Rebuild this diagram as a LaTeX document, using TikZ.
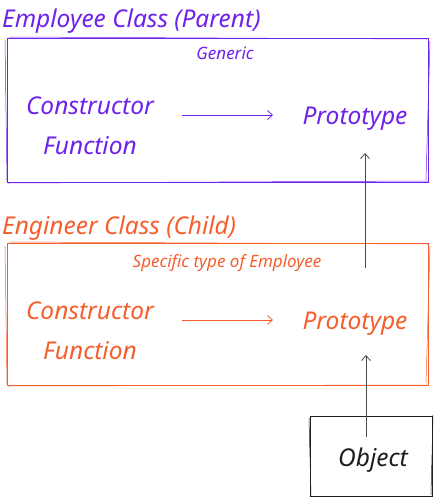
\documentclass[tikz,border=0pt]{standalone}
\usepackage{fontspec}
\setmainfont{Noto Sans}
\usetikzlibrary{arrows.meta}
\definecolor{violetc}{HTML}{6E22EA}
\definecolor{orangec}{HTML}{F55E2D}
\definecolor{inkc}{HTML}{1E1E1E}
\tikzset{
  hand/.style={font=\itshape, inner sep=0pt},
  title/.style={hand, anchor=west, font=\itshape\fontsize{24.5}{26}\selectfont},
  big/.style={hand, font=\itshape\fontsize{24.5}{40}\selectfont, align=center},
  small/.style={hand, font=\itshape\fontsize{17}{19}\selectfont},
  frame/.style={draw, line width=1pt, inner sep=0pt},
  conn/.style={line width=0.8pt, -{Straight Barb[length=5pt,width=9pt]}},
}
\begin{document}
\begin{tikzpicture}[x=1pt,y=-1pt]
\useasboundingbox (0,0) rectangle (434,499);
% parent
\node[title, text=violetc] (t1) at (2,21) {Employee Class (Parent)};
\node[frame, draw=violetc, minimum width=421pt, minimum height=144pt] (box1) at (217.5,110) {};
\draw[violetc, line width=0.5pt] (5,40) -- (7,181) (9,37) -- (427,39) (430,41) -- (426,180) (8,183) -- (428,181);
\node[small, text=violetc] (g1) at (225,53) {Generic};
\node[big, text=violetc] (c1) at (90,126) {Constructor\\Function};
\node[big, text=violetc] (p1) at (355,119) {Prototype};
\draw[conn, violetc] (182,115) -- (273,115);
% child
\node[title, text=orangec] (t2) at (2,228) {Engineer Class (Child)};
\node[frame, draw=orangec, minimum width=421pt, minimum height=142pt] (box2) at (217.5,314) {};
\draw[orangec, line width=0.5pt] (5,246) -- (7,384) (9,242) -- (428,244) (430,246) -- (426,383) (8,386) -- (428,385);
\node[small, text=orangec] (g2) at (227,263) {Specific type of Employee};
\node[big, text=orangec] (c2) at (90,331) {Constructor\\Function};
\node[big, text=orangec] (p2) at (355,324) {Prototype};
\draw[conn, orangec] (182,320) -- (273,320);
% object
\node[frame, draw=inkc, minimum width=122pt, minimum height=80pt] (obj) at (371,456) {};
\draw[inkc, line width=0.5pt] (309,418) -- (311,496) (433,415) -- (431,495);
\node[big, text=inkc] (ol) at (373,460) {Object};
% inheritance arrows
\coordinate (a1) at (365,268);
\coordinate (b1) at (365,153);
\coordinate (a2) at (366,437);
\coordinate (b2) at (366,355);
\draw[conn, inkc!80] (a1) -- (b1);
\draw[conn, inkc!80] (a2) -- (b2);
\end{tikzpicture}
\end{document}
